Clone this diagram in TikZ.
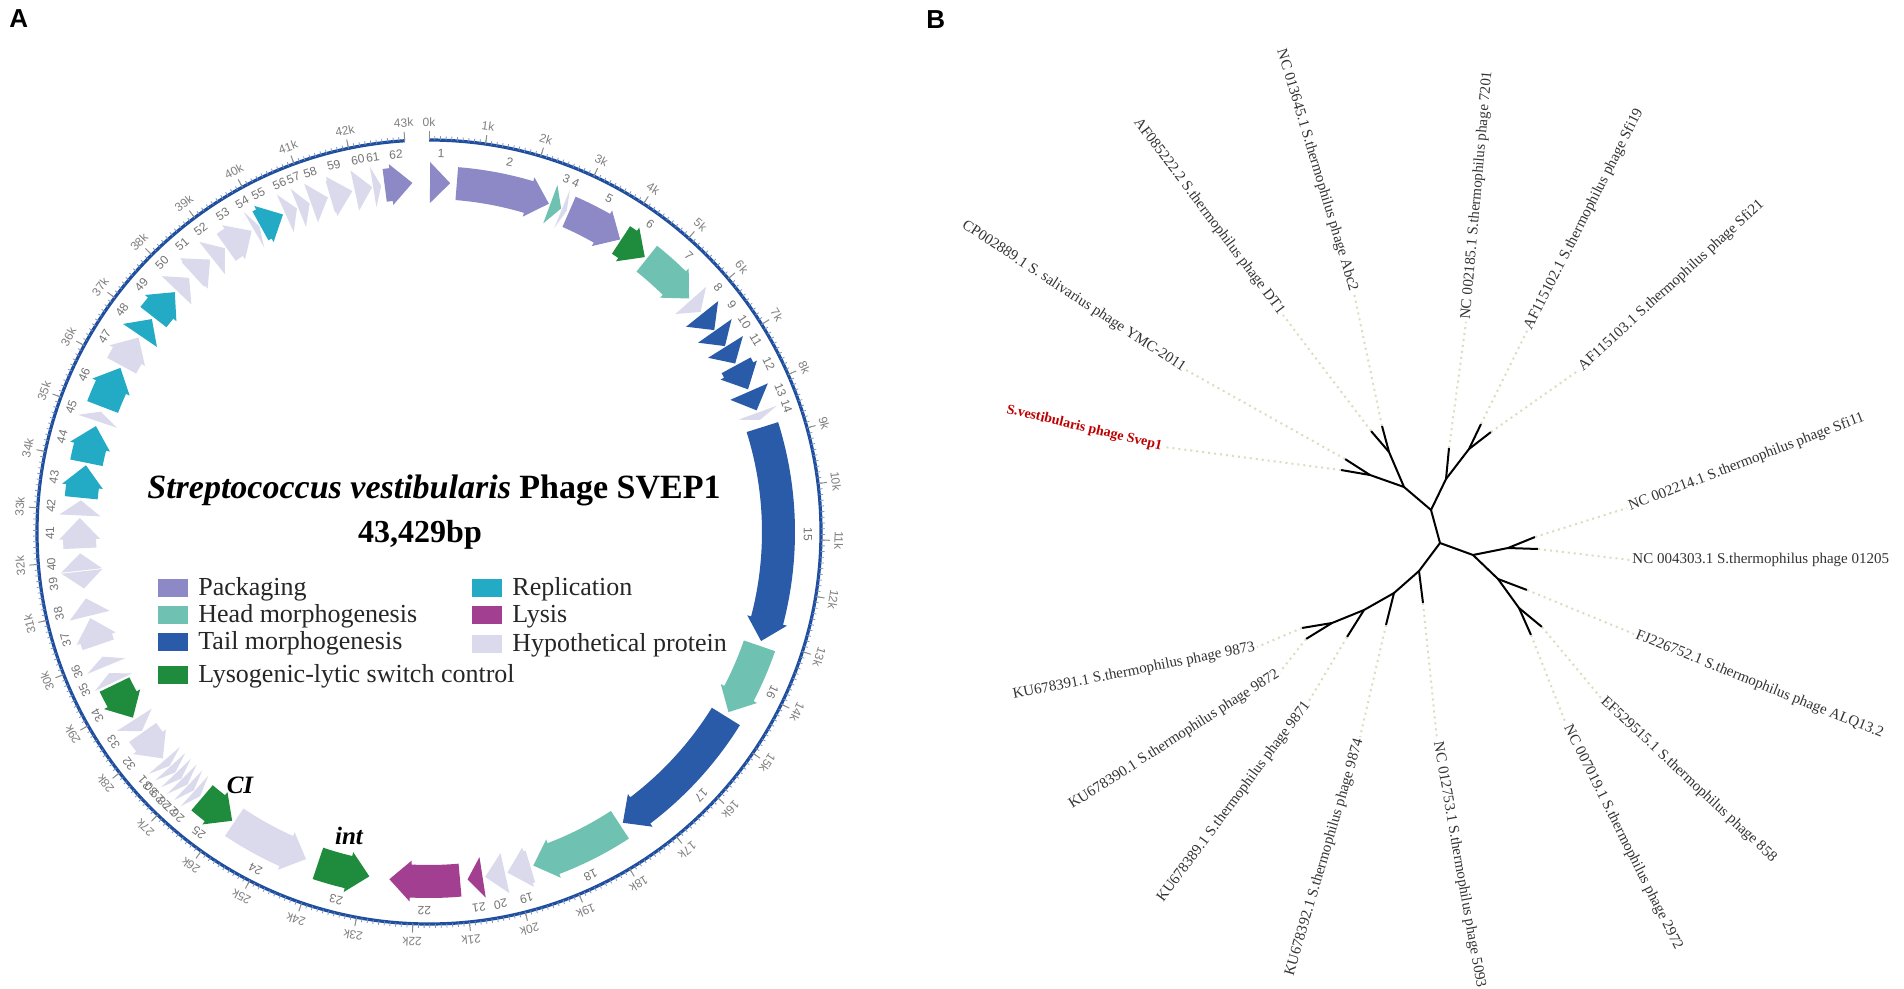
\documentclass[tikz,border=0pt]{standalone}
\usepackage{fontspec}
\setmainfont{Liberation Serif}
\setsansfont{Liberation Sans}

\definecolor{packcol}{HTML}{8C89C6}
\definecolor{headcol}{HTML}{6FC2B1}
\definecolor{tailcol}{HTML}{2A5BA9}
\definecolor{lysocol}{HTML}{1F8B3D}
\definecolor{replcol}{HTML}{23AAC4}
\definecolor{lysicol}{HTML}{A33F91}
\definecolor{hypocol}{HTML}{DADAEC}
\definecolor{ringcol}{HTML}{1F4E9E}
\definecolor{dotcol}{HTML}{DEDBBE}

% gene on the forward strand: start kb, end kb, colour, number
\newcommand{\fwdgene}[4]{%
  \pgfmathsetmacro{\ga}{#1*360/43.429-90}%
  \pgfmathsetmacro{\gb}{#2*360/43.429-90}%
  \pgfmathsetmacro{\gm}{max(\ga,\gb-3.5)}%
  \pgfmathsetmacro{\gr}{-(\ga+\gb)/2-90}%
  \fill[#3] (\ga:333) arc[start angle=\ga, end angle=\gm, radius=333] -- (\gm:329)
    -- (\gb:349.5) -- (\gm:370) -- (\gm:366) arc[start angle=\gm, end angle=\ga, radius=366] -- cycle;
  \node[genelab, rotate=\gr] (g#4) at ({(\ga+\gb)/2}:379) {#4};
}
% gene on the reverse strand
\newcommand{\revgene}[4]{%
  \pgfmathsetmacro{\ga}{#1*360/43.429-90}%
  \pgfmathsetmacro{\gb}{#2*360/43.429-90}%
  \pgfmathsetmacro{\gm}{min(\gb,\ga+3.5)}%
  \pgfmathsetmacro{\gr}{-(\ga+\gb)/2-90}%
  \fill[#3] (\ga:349.5) -- (\gm:370) -- (\gm:366) arc[start angle=\gm, end angle=\gb, radius=366]
    -- (\gb:333) arc[start angle=\gb, end angle=\gm, radius=333] -- (\gm:329) -- cycle;
  \node[genelab, rotate=\gr] (g#4) at ({(\ga+\gb)/2}:379) {#4};
}

\begin{document}
\begin{tikzpicture}
        [x=0.5pt,y=-0.5pt,
        genelab/.style={font=\sffamily\fontsize{6}{6}\selectfont,text=black!55,inner sep=0pt},
        ticklab/.style={font=\sffamily\fontsize{6}{6}\selectfont,text=black!50,inner sep=0pt},
        legtext/.style={font=\fontsize{13}{14}\selectfont,text=black!85,anchor=base west,inner sep=0pt},
        branch/.style={line width=1pt,black},
        dotline/.style={dotcol,line width=1pt,dash pattern=on 1pt off 2pt},
        leaf/.style={font=\fontsize{7.5}{9}\selectfont,text=black!80,inner sep=1pt},
        panel/.style={font=\sffamily\bfseries\fontsize{13}{14}\selectfont,anchor=base west,inner sep=0pt}]
        \fill[white] (0,0) rectangle (1904,989);
        \useasboundingbox (0,0) rectangle (1904,989);

        \node[panel] (pa) at (9,28) {A};
        \node[panel] (pb) at (926,29) {B};

        % genome map
        \begin{scope}[shift={(429,532)}]
        \draw[ringcol,line width=1.6pt] (-90:392) arc[start angle=-90, end angle=266.44, radius=392];
        \foreach \k in {0,...,430} {
            \pgfmathsetmacro{\ta}{\k*36/43.429-90}
            \draw[ringcol!60,line width=0.4pt] (\ta:392) -- (\ta:396);
        }
        \foreach \k in {0,...,43} {
            \pgfmathsetmacro{\ta}{\k*360/43.429-90}
            \pgfmathsetmacro{\tr}{-\ta-90}
            \draw[black!45,line width=0.5pt] (\ta:392) -- (\ta:401);
            \node[ticklab, rotate=\tr] (k\k) at (\ta:410) {\k k};
        }

        \fwdgene{0.02}{0.42}{packcol}{1}
        \fwdgene{0.55}{2.42}{packcol}{2}
        \fwdgene{2.45}{2.68}{headcol}{3}
        \fwdgene{2.70}{2.80}{hypocol}{4}
        \fwdgene{2.85}{4.00}{packcol}{5}
        \fwdgene{4.02}{4.60}{lysocol}{6}
        \fwdgene{4.65}{5.80}{headcol}{7}
        \fwdgene{5.85}{6.15}{hypocol}{8}
        \fwdgene{6.20}{6.60}{tailcol}{9}
        \fwdgene{6.62}{6.98}{tailcol}{10}
        \fwdgene{7.00}{7.38}{tailcol}{11}
        \fwdgene{7.42}{7.95}{tailcol}{12}
        \fwdgene{8.00}{8.40}{tailcol}{13}
        \fwdgene{8.45}{8.60}{hypocol}{14}
        \fwdgene{8.75}{13.05}{tailcol}{15}
        \fwdgene{13.15}{14.60}{headcol}{16}
        \fwdgene{14.70}{17.65}{tailcol}{17}
        \fwdgene{17.72}{19.62}{headcol}{18}
        \fwdgene{19.68}{20.15}{hypocol}{19}
        \fwdgene{20.20}{20.60}{hypocol}{20}
        \fwdgene{20.65}{20.95}{lysicol}{21}
        \fwdgene{21.10}{22.50}{lysicol}{22}
        \revgene{22.90}{23.95}{lysocol}{23}
        \revgene{24.20}{25.80}{hypocol}{24}
        \revgene{25.85}{26.60}{lysocol}{25}
        \revgene{26.65}{26.80}{hypocol}{26}
        \revgene{26.82}{26.97}{hypocol}{27}
        \revgene{26.99}{27.14}{hypocol}{28}
        \revgene{27.16}{27.31}{hypocol}{29}
        \revgene{27.33}{27.48}{hypocol}{30}
        \revgene{27.50}{27.65}{hypocol}{31}
        \revgene{27.70}{28.35}{hypocol}{32}
        \revgene{28.38}{28.65}{hypocol}{33}
        \revgene{28.70}{29.45}{lysocol}{34}
        \fwdgene{29.50}{29.70}{hypocol}{35}
        \fwdgene{29.85}{30.05}{hypocol}{36}
        \fwdgene{30.30}{30.85}{hypocol}{37}
        \fwdgene{30.90}{31.25}{hypocol}{38}
        \revgene{31.45}{31.79}{hypocol}{39}
        \fwdgene{31.81}{32.15}{hypocol}{40}
        \fwdgene{32.25}{32.85}{hypocol}{41}
        \fwdgene{32.90}{33.20}{hypocol}{42}
        \fwdgene{33.25}{33.90}{replcol}{43}
        \fwdgene{33.95}{34.70}{replcol}{44}
        \fwdgene{34.80}{35.00}{hypocol}{45}
        \fwdgene{35.10}{35.95}{replcol}{46}
        \fwdgene{36.00}{36.65}{hypocol}{47}
        \fwdgene{36.70}{37.10}{replcol}{48}
        \fwdgene{37.15}{37.80}{replcol}{49}
        \fwdgene{37.85}{38.20}{hypocol}{50}
        \fwdgene{38.30}{38.75}{hypocol}{51}
        \fwdgene{38.80}{39.12}{hypocol}{52}
        \fwdgene{39.15}{39.75}{hypocol}{53}
        \fwdgene{39.80}{39.93}{hypocol}{54}
        \fwdgene{39.95}{40.45}{replcol}{55}
        \fwdgene{40.50}{40.75}{hypocol}{56}
        \fwdgene{40.78}{41.02}{hypocol}{57}
        \fwdgene{41.05}{41.40}{hypocol}{58}
        \fwdgene{41.45}{41.90}{hypocol}{59}
        \fwdgene{41.95}{42.30}{hypocol}{60}
        \fwdgene{42.32}{42.48}{hypocol}{61}
        \fwdgene{42.55}{43.10}{packcol}{62}
        \end{scope}

        \node[font=\bfseries\fontsize{17}{20}\selectfont,anchor=base] (title) at (434,498)
            {\textit{Streptococcus vestibularis} Phage SVEP1};
        \node[font=\bfseries\fontsize{16}{19}\selectfont,anchor=base] (bp) at (420,542) {43,429bp};
        \node[font=\bfseries\itshape\fontsize{12.5}{14}\selectfont] (ci) at (240,785) {CI};
        \node[font=\bfseries\itshape\fontsize{12.5}{14}\selectfont] (int) at (349,836) {int};

        % legend
        \foreach \col/\txt/\y in {packcol/Packaging/588, headcol/Head morphogenesis/615,
            tailcol/Tail morphogenesis/642, lysocol/Lysogenic-lytic switch control/675} {
            \fill[\col] (158,\y-9) rectangle (188,\y+9);
            \node[legtext] at (198,\y+7) {\txt};
        }
        \foreach \col/\txt/\y in {replcol/Replication/588, lysicol/Lysis/615,
            hypocol/Hypothetical protein/644} {
            \fill[\col] (472,\y-9) rectangle (502,\y+9);
            \node[legtext] at (512,\y+7) {\txt};
        }

        % tree
        \coordinate (u) at (1431,510);
        \coordinate (c) at (1440,543);
        \coordinate (a1) at (1404,487);
        \coordinate (a2) at (1389,452);
        \coordinate (a3) at (1370,475);
        \coordinate (b1) at (1446,479);
        \coordinate (b2) at (1469,449);
        \coordinate (d1) at (1473,555);
        \coordinate (d2) at (1508,548);
        \coordinate (d3) at (1498,579);
        \coordinate (d4) at (1519,608);
        \coordinate (e1) at (1419,571);
        \coordinate (e2) at (1394,593);
        \coordinate (e3) at (1364,610);
        \coordinate (e4) at (1332,623);

        \coordinate (abc2) at (1382,426);
        \coordinate (dt1) at (1371,431);
        \coordinate (ymc) at (1345,459);
        \coordinate (svep) at (1341,470);
        \coordinate (p7201) at (1449,448);
        \coordinate (sfi19) at (1481,424);
        \coordinate (sfi21) at (1491,432);
        \coordinate (sfi11) at (1535,537);
        \coordinate (p01205) at (1538,549);
        \coordinate (alq) at (1527,590);
        \coordinate (p858) at (1542,627);
        \coordinate (p2972) at (1531,635);
        \coordinate (p5093) at (1423,603);
        \coordinate (p9874) at (1386,625);
        \coordinate (p9871) at (1347,637);
        \coordinate (p9873) at (1302,628);
        \coordinate (p9872) at (1306,639);

        \draw[branch] (u) -- (c);
        \draw[branch] (u) -- (a1) -- (a2) -- (abc2);
        \draw[branch] (a2) -- (dt1);
        \draw[branch] (a1) -- (a3) -- (ymc);
        \draw[branch] (a3) -- (svep);
        \draw[branch] (u) -- (b1) -- (p7201);
        \draw[branch] (b1) -- (b2) -- (sfi19);
        \draw[branch] (b2) -- (sfi21);
        \draw[branch] (c) -- (d1) -- (d2) -- (sfi11);
        \draw[branch] (d2) -- (p01205);
        \draw[branch] (d1) -- (d3) -- (alq);
        \draw[branch] (d3) -- (d4) -- (p858);
        \draw[branch] (d4) -- (p2972);
        \draw[branch] (c) -- (e1) -- (p5093);
        \draw[branch] (e1) -- (e2) -- (p9874);
        \draw[branch] (e2) -- (e3) -- (p9871);
        \draw[branch] (e3) -- (e4) -- (p9873);
        \draw[branch] (e4) -- (p9872);

        % tip labels
        \node[leaf,anchor=east,rotate=-73.2] (labc2) at (1354,293) {NC 013645.1 S.thermophilus phage Abc2};
        \node[leaf,anchor=east,rotate=-53] (ldt1) at (1283,315) {AF085222.2 S.thermophilus phage DT1};
        \node[leaf,anchor=east,rotate=-33.2] (lymc) at (1186,370) {CP002889.1 S. salivarius phage YMC-2011};
        \node[leaf,anchor=east,rotate=-13.3,text=red!75!black,font=\bfseries\fontsize{7}{9}\selectfont] (lsvep) at (1164,447) {S.vestibularis phage Svep1};
        \node[leaf,anchor=west,rotate=85] (l7201) at (1466,322) {NC 002185.1 S.thermophilus phage 7201};
        \node[leaf,anchor=west,rotate=63] (lsfi19) at (1527,331) {AF115102.1 S.thermophilus phage Sfi19};
        \node[leaf,anchor=west,rotate=42.5] (lsfi21) at (1579,370) {AF115103.1 S.thermophilus phage Sfi21};
        \node[leaf,anchor=west,rotate=21] (lsfi11) at (1627,508) {NC 002214.1 S.thermophilus phage Sfi11};
        \node[leaf,anchor=west] (l01205) at (1630,560) {NC 004303.1 S.thermophilus phage 01205};
        \node[leaf,anchor=west,rotate=-22] (lalq) at (1634,634) {FJ226752.1 S.thermophilus phage ALQ13.2};
        \node[leaf,anchor=west,rotate=-43] (l858) at (1601,698) {EF529515.1 S.thermophilus phage 858};
        \node[leaf,anchor=west,rotate=-63.4] (l2972) at (1566,724) {NC 007019.1 S.thermophilus phage 2972};
        \node[leaf,anchor=west,rotate=-80] (l5093) at (1437,740) {NC 012753.1 S.thermophilus phage 5093};
        \node[leaf,anchor=east,rotate=73.6] (l9874) at (1360,737) {KU678392.1 S.thermophilus phage 9874};
        \node[leaf,anchor=east,rotate=53.3] (l9871) at (1309,701) {KU678389.1 S.thermophilus phage 9871};
        \node[leaf,anchor=east,rotate=32.6] (l9872) at (1280,672) {KU678390.1 S.thermophilus phage 9872};
        \node[leaf,anchor=east,rotate=11.2] (l9873) at (1257,647) {KU678391.1 S.thermophilus phage 9873};

        \draw[dotline] (abc2) -- (labc2.east);
        \draw[dotline] (dt1) -- (ldt1.east);
        \draw[dotline] (ymc) -- (lymc.east);
        \draw[dotline] (svep) -- (lsvep.east);
        \draw[dotline] (p7201) -- (l7201.west);
        \draw[dotline] (sfi19) -- (lsfi19.west);
        \draw[dotline] (sfi21) -- (lsfi21.west);
        \draw[dotline] (sfi11) -- (lsfi11.west);
        \draw[dotline] (p01205) -- (l01205.west);
        \draw[dotline] (alq) -- (lalq.west);
        \draw[dotline] (p858) -- (l858.west);
        \draw[dotline] (p2972) -- (l2972.west);
        \draw[dotline] (p5093) -- (l5093.west);
        \draw[dotline] (p9874) -- (l9874.east);
        \draw[dotline] (p9871) -- (l9871.east);
        \draw[dotline] (p9872) -- (l9872.east);
        \draw[dotline] (p9873) -- (l9873.east);
    \end{tikzpicture}
\end{document}
